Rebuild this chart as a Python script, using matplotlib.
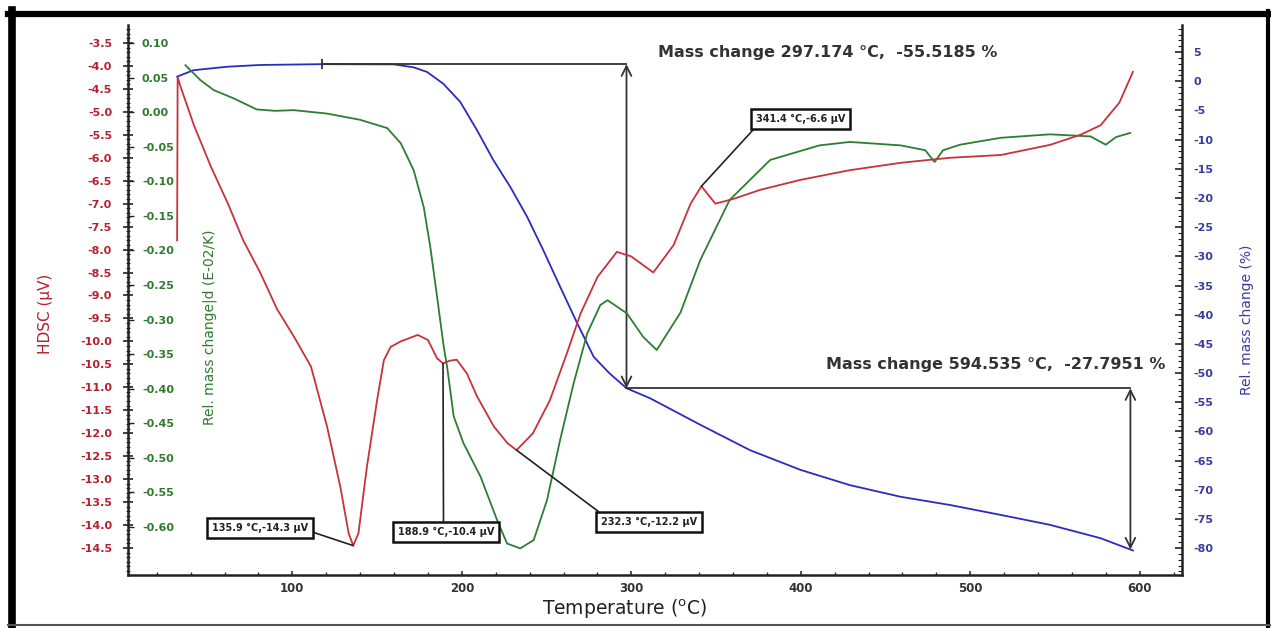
import numpy as np
import matplotlib.pyplot as plt
from matplotlib.ticker import MultipleLocator, FormatStrFormatter
from matplotlib.lines import Line2D

plt.rcParams['font.family'] = ['DejaVu Sans']
plt.rcParams['axes.unicode_minus'] = False

# HDSC signal (red), uV
hdsc_t = [32.0, 32.3, 34, 42, 52, 62, 71, 81, 91, 101, 111, 120.5, 128.3, 133.2, 135.9,
          139, 144, 150, 154, 158, 164, 174, 180, 185.4, 188.9, 193, 197, 203, 209, 219,
          227, 232.3, 242, 252, 262, 270, 280, 291.5, 300, 313, 325, 335, 341.4, 349.6,
          360, 376, 400, 429, 459, 488, 518, 547, 565, 577, 588, 596]
hdsc_v = [-7.8, -4.24, -4.45, -5.3, -6.2, -7.0, -7.8, -8.5, -9.3, -9.9, -10.55, -11.86, -13.17, -14.18, -14.45,
          -14.18, -12.73, -11.28, -10.41, -10.12, -10.0, -9.86, -9.97, -10.37, -10.48, -10.42, -10.40, -10.7, -11.2, -11.86,
          -12.22, -12.37, -12.0, -11.28, -10.26, -9.4, -8.6, -8.05, -8.15, -8.5, -7.9, -7.0, -6.62, -7.0,
          -6.9, -6.7, -6.48, -6.27, -6.11, -6.0, -5.94, -5.72, -5.5, -5.29, -4.8, -4.13]

# derivative of mass change (green), E-02/K
dtg_t = [36.9, 45.7, 53.6, 65.4, 79, 90, 100.8, 120.5, 140, 156, 164, 171.6, 177.5, 181.4, 185.4,
         189.3, 191.3, 195.2, 201, 211, 220.8, 226.7, 234.5, 242.4, 250.3, 258, 266, 274, 281.7, 286,
         297.4, 307, 315, 329, 340.7, 358, 382, 411, 429, 459, 473.5, 479, 484, 494, 518,
         547, 571, 580, 586, 594.4]
dtg_v = [0.068, 0.0465, 0.032, 0.020, 0.004, 0.002, 0.003, -0.002, -0.011, -0.023, -0.045, -0.084, -0.137, -0.195, -0.267,
         -0.339, -0.368, -0.44, -0.479, -0.527, -0.59, -0.624, -0.631, -0.619, -0.561, -0.474, -0.392, -0.32, -0.279, -0.272,
         -0.291, -0.325, -0.344, -0.29, -0.214, -0.127, -0.069, -0.048, -0.043, -0.048, -0.055, -0.072, -0.055, -0.047, -0.037,
         -0.032, -0.035, -0.047, -0.036, -0.030]

# relative mass change (blue), %
tg_t = [32, 41.6, 61.5, 81, 117.5, 160, 171.5, 179.5, 189, 199, 209, 218.6, 228.6, 238.5, 248,
        258, 268, 277.8, 287, 297.2, 311, 341, 370, 400, 429, 459, 488, 518, 547, 577, 596]
tg_v = [0.8, 1.9, 2.5, 2.8, 2.94, 2.9, 2.4, 1.6, -0.4, -3.5, -8.4, -13.5, -18.1, -23.2, -28.9,
        -35.2, -41.4, -47.2, -50.0, -52.6, -54.3, -58.9, -63.2, -66.6, -69.2, -71.2, -72.6, -74.3, -76.0, -78.3, -80.4]

peak_t = [135.9, 188.9, 232.3, 341.4]
peak_labels = ['135.9 °C,-14.3 μV', '188.9 °C,-10.4 μV', '232.3 °C,-12.2 μV', '341.4 °C,-6.6 μV']

step_t = [117.5, 297.174, 594.535]
step_labels = ['Mass change 297.174 °C,  -55.5185 %', 'Mass change 594.535 °C,  -27.7951 %']

red = '#c8323a'
green = '#2e7d32'
blue = '#2b2bc0'
red_txt = '#b5202e'
green_txt = '#2f7a2f'
blue_txt = '#3a3aa0'

fig = plt.figure(figsize=(12.71, 6.28), dpi=100)
ax = fig.add_axes([0.1007, 0.0844, 0.8293, 0.8756])
ax_g = ax.twinx()
ax_b = ax.twinx()

ax.set_xlim(3, 625)
ax.set_ylim(-15.09, -3.11)
ax_g.set_ylim(-0.6695, 0.126)
ax_b.set_ylim(-84.6, 9.63)

ax_b.plot(tg_t, tg_v, color=blue, lw=1.3)
ax_g.plot(dtg_t, dtg_v, color=green, lw=1.3)
ax.plot(hdsc_t, hdsc_v, color=red, lw=1.3)
ax.set_zorder(3)
ax.patch.set_visible(False)
ax_g.set_zorder(2)
ax_b.set_zorder(1)

for a in (ax, ax_g, ax_b):
    for s in ('top', 'right', 'left', 'bottom'):
        a.spines[s].set_visible(False)

ax.spines['left'].set_visible(True)
ax.spines['bottom'].set_visible(True)
ax.spines['left'].set_linewidth(1.8)
ax.spines['bottom'].set_linewidth(1.8)
ax.spines['left'].set_color('#222222')
ax.spines['bottom'].set_color('#222222')

# x axis
ax.xaxis.set_minor_locator(MultipleLocator(20))
ax.set_xticks([100, 200, 300, 400, 500, 600])
ax.tick_params(axis='x', which='major', direction='in', length=3, width=1.2, pad=5,
               labelsize=8.5, colors='#333333')
ax.tick_params(axis='x', which='minor', direction='in', length=2, width=1.0, colors='#333333')
for lbl in ax.get_xticklabels():
    lbl.set_fontweight('bold')

# red axis
ax.yaxis.set_minor_locator(MultipleLocator(0.1))
ax.yaxis.set_major_formatter(FormatStrFormatter('%.1f'))
ax.set_yticks(np.arange(-14.5, -3.4, 0.5))
ax.tick_params(axis='y', which='major', direction='inout', length=7, width=1.2, pad=8,
               labelsize=8, labelcolor=red_txt, color='#222222')
ax.tick_params(axis='y', which='minor', direction='inout', length=3, width=0.8, color='#222222')
for lbl in ax.get_yticklabels():
    lbl.set_fontweight('bold')

# green axis on the left spine, labels inside
ax_g.spines['right'].set_position(('axes', 0))
ax_g.yaxis.set_ticks_position('right')
ax_g.set_yticks(np.arange(-0.60, 0.101, 0.05))
ax_g.yaxis.set_major_formatter(FormatStrFormatter('%.2f'))
ax_g.tick_params(axis='y', which='major', direction='out', length=4, width=1.0, pad=6,
                 labelsize=8, labelcolor=green_txt, color='#222222')
for lbl in ax_g.get_yticklabels():
    lbl.set_fontweight('bold')

# blue axis
ax_b.spines['right'].set_visible(True)
ax_b.spines['right'].set_linewidth(1.8)
ax_b.spines['right'].set_color('#222222')
ax_b.set_yticks(np.arange(-80, 6, 5))
ax_b.yaxis.set_minor_locator(MultipleLocator(1))
ax_b.tick_params(axis='y', which='major', direction='in', length=5, width=1.2, pad=8,
                 labelsize=8, labelcolor=blue_txt, color='#222222')
ax_b.tick_params(axis='y', which='minor', direction='in', length=3, width=0.8, color='#222222')
for lbl in ax_b.get_yticklabels():
    lbl.set_fontweight('bold')

# axis titles
ax.text(-0.0787, 0.4745, 'HDSC (μV)', transform=ax.transAxes, rotation=90,
        ha='center', va='center', color=red_txt, fontsize=11)
ax.text(0.0778, 0.451, 'Rel. mass change|d (E-02/K)', transform=ax.transAxes, rotation=90,
        ha='center', va='center', color=green_txt, fontsize=10)
ax.text(1.0617, 0.4636, 'Rel. mass change (%)', transform=ax.transAxes, rotation=90,
        ha='center', va='center', color=blue_txt, fontsize=10)
ax.text(0.4716, -0.062, 'Temperature ($\\mathregular{^o}$C)', transform=ax.transAxes,
        ha='center', va='center', color='#222222', fontsize=13.5)

# peak annotations on the HDSC curve
box_pos = [(81.1, -14.07), (190.9, -14.15), (310.6, -13.94), (399.7, -5.16)]
box_rel = [(1.0, 0.25), (0.47, 1.0), (0.05, 1.0), (0.03, 0.0)]
for t, lab, pos, rel in zip(peak_t, peak_labels, box_pos, box_rel):
    v = np.interp(t, hdsc_t, hdsc_v)
    ax.annotate(lab, xy=(t, v), xytext=pos, ha='center', va='center',
                fontsize=7, fontweight='bold', color='#222222',
                bbox=dict(boxstyle='square,pad=0.5', fc='white', ec='#111111', lw=1.8),
                arrowprops=dict(arrowstyle='-', color='#222222', lw=1.2, relpos=rel,
                                shrinkA=0, shrinkB=0))

# mass change steps on the blue curve
step_v = np.interp(step_t, tg_t, tg_v)
lc = '#333333'
ax_b.plot([step_t[0], step_t[1]], [step_v[0], step_v[0]], color=lc, lw=1.3)
ax_b.plot([step_t[0]], [step_v[0]], marker='|', ms=7, color=lc, mew=1.3)
ax_b.plot([step_t[1], step_t[2]], [step_v[1], step_v[1]], color=lc, lw=1.3)
ax_b.annotate('', xy=(step_t[1], step_v[0]), xytext=(step_t[1], step_v[1]),
              arrowprops=dict(arrowstyle='<->,head_length=0.7,head_width=0.35', color=lc, lw=1.3,
                              shrinkA=0, shrinkB=0))
ax_b.annotate('', xy=(step_t[2], step_v[1]), xytext=(step_t[2], step_v[2]),
              arrowprops=dict(arrowstyle='<->,head_length=0.7,head_width=0.35', color=lc, lw=1.3,
                              shrinkA=0, shrinkB=0))
ax_b.text(316, 5.0, step_labels[0], ha='left', va='center', fontsize=11.5,
          fontweight='bold', color='#333333')
ax_b.text(415, -48.6, step_labels[1], ha='left', va='center', fontsize=11.5,
          fontweight='bold', color='#333333')

# page frame: heavy on left and top, light at bottom
W, H = 1271.0, 628.0
fig.add_artist(Line2D([11.5 / W, 11.5 / W], [1 - 10 / H, 1 - 626 / H], color='black', lw=5.5))
fig.add_artist(Line2D([8 / W, 1.0], [1 - 13.5 / H, 1 - 13.5 / H], color='black', lw=4.5))
fig.add_artist(Line2D([1267.5 / W, 1267.5 / W], [1 - 11 / H, 1 - 626 / H], color='black', lw=3))
fig.add_artist(Line2D([8 / W, 1.0], [1 - 625 / H, 1 - 625 / H], color='#555555', lw=1.5))

fig.savefig('out.png', dpi=100)
